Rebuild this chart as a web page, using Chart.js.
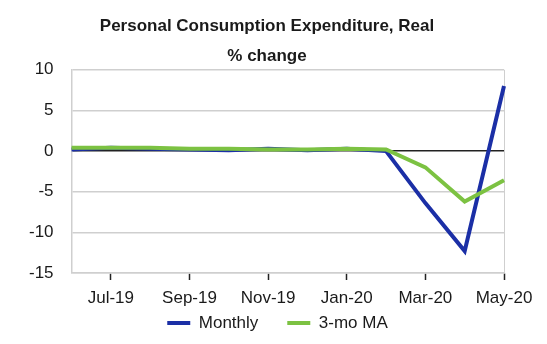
<!DOCTYPE html>
<html>
<head>
<meta charset="utf-8">
<script src="https://cdn.jsdelivr.net/npm/chart.js@4.4.1/dist/chart.umd.min.js"></script>
<style>
  html, body { margin: 0; padding: 0; background: #fff; }
  #wrap { width: 547px; height: 344px; }
</style>
</head>
<body>
<div id="wrap"><canvas id="pceChart"></canvas></div>
<script>
const months = ['Jun-19', 'Jul-19', 'Aug-19', 'Sep-19', 'Oct-19', 'Nov-19', 'Dec-19',
                'Jan-20', 'Feb-20', 'Mar-20', 'Apr-20', 'May-20'];
const monthly = [0.2, 0.4, 0.3, 0.2, 0.1, 0.3, 0.1, 0.3, 0.0, -6.4, -12.3, 8.0];
const movingAvg = [0.4, 0.4, 0.4, 0.3, 0.3, 0.2, 0.2, 0.3, 0.2, -2.0, -6.2, -3.6];
const yTicks = [-15, -10, -5, 0, 5, 10];

const textColor = '#1a1a1a';
const gridColor = '#cfcfcf';
const fontFamily = '"Liberation Sans", Arial, sans-serif';

// titles and legend are not centred on the same spot as chart.js would put them
const nudgeBoxes = {
    id: 'nudgeBoxes',
    afterLayout(chart) {
        chart.boxes.forEach(b => {
            if (b.options && typeof b.options.text === 'string') {
                b.left += 9.5;
                b.right += 9.5;
            }
        });
        const lg = chart.legend;
        lg.left += 20;
        lg.right += 20;
        lg.top -= 30.9;
    }
};

new Chart(document.getElementById('pceChart'), {
    type: 'line',
    data: {
        labels: months,
        datasets: [{
            label: 'Monthly',
            data: monthly,
            borderColor: '#1b2fa6',
            backgroundColor: '#1b2fa6',
            borderWidth: 4,
            pointRadius: 0,
            tension: 0,
            order: 1
        }, {
            label: '3-mo MA',
            data: movingAvg,
            borderColor: '#7cc242',
            backgroundColor: '#7cc242',
            borderWidth: 4,
            pointRadius: 0,
            tension: 0,
            order: 0
        }]
    },
    options: {
        responsive: true,
        maintainAspectRatio: false,
        animation: false,
        layout: { padding: { left: 11, right: 43, top: 0, bottom: 0 } },
        scales: {
            x: {
                offset: false,
                grid: {
                    drawOnChartArea: true,
                    color: ctx => ctx.index === months.length - 1 ? gridColor : 'transparent',
                    tickColor: ctx => ctx.index % 2 === 1 ? '#222' : 'transparent',
                    tickLength: 7,
                    tickWidth: 1.5
                },
                border: { color: gridColor, width: 1.5 },
                ticks: {
                    autoSkip: false,
                    maxRotation: 0,
                    padding: 8,
                    color: textColor,
                    font: { family: fontFamily, size: 17 },
                    callback: (val, i) => i % 2 === 1 ? months[i] : ''
                }
            },
            y: {
                min: yTicks[0],
                max: yTicks[yTicks.length - 1],
                afterBuildTicks: axis => { axis.ticks = yTicks.map(v => ({ value: v })); },
                grid: {
                    drawTicks: false,
                    color: ctx => ctx.tick.value === 0 ? '#222' : gridColor,
                    lineWidth: 1.5
                },
                border: { color: gridColor, width: 1.5 },
                ticks: {
                    padding: 18,
                    color: textColor,
                    font: { family: fontFamily, size: 17 }
                }
            }
        },
        plugins: {
            title: {
                display: true,
                text: 'Personal Consumption Expenditure, Real',
                color: textColor,
                font: { family: fontFamily, size: 17, weight: 'bold' },
                padding: { top: 16, bottom: 9.5 }
            },
            subtitle: {
                display: true,
                text: '% change',
                color: textColor,
                font: { family: fontFamily, size: 17, weight: 'bold' },
                padding: { top: 0, bottom: 3.5 }
            },
            legend: {
                position: 'bottom',
                maxHeight: 27.6,
                labels: {
                    boxWidth: 23,
                    boxHeight: 4,
                    padding: 29,
                    color: textColor,
                    font: { family: fontFamily, size: 17 },
                    sort: (a, b) => a.datasetIndex - b.datasetIndex,
                    generateLabels: chart => Chart.defaults.plugins.legend.labels.generateLabels(chart)
                        .map(l => ({ ...l, lineWidth: 0, fillStyle: l.strokeStyle }))
                }
            },
            tooltip: { enabled: false }
        }
    },
    plugins: [nudgeBoxes]
});
</script>
</body>
</html>
